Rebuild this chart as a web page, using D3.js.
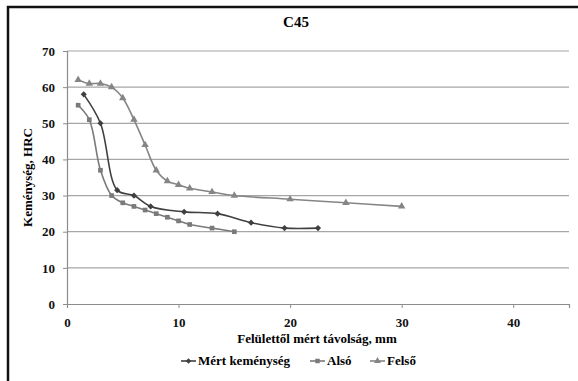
<!DOCTYPE html>
<html>
<head>
<meta charset="utf-8">
<script src="https://cdn.jsdelivr.net/npm/d3@7"></script>
<style>
  body { margin: 0; background: #fff; }
  text { font-family: "Liberation Serif", serif; font-weight: bold; }
</style>
</head>
<body>
<div id="chart"></div>
<script>
// data
const mertX = [1.5, 3, 4.5, 6, 7.5, 10.5, 13.5, 16.5, 19.5, 22.5]
const mertY = [58, 50, 31.5, 30, 27, 25.5, 25, 22.5, 21, 21]
const alsoX = [1, 2, 3, 4, 5, 6, 7, 8, 9, 10, 11, 13, 15]
const alsoY = [55, 51, 37, 30, 28, 27, 26, 25, 24, 23, 22, 21, 20]
const felsoX = [1, 2, 3, 4, 5, 6, 7, 8, 9, 10, 11, 13, 15, 20, 25, 30]
const felsoY = [62, 61, 61, 60, 57, 51, 44, 37, 34, 33, 32, 31, 30, 29, 28, 27]
const xTicks = [0, 10, 20, 30, 40]
const yTicks = [0, 10, 20, 30, 40, 50, 60, 70]

const series = [
  { name: 'Mért keménység', xs: mertX, ys: mertY, color: '#404040', sym: d3.symbolDiamond2 },
  { name: 'Alsó', xs: alsoX, ys: alsoY, color: '#7a7a7a', sym: d3.symbolSquare },
  { name: 'Felső', xs: felsoX, ys: felsoY, color: '#858585', sym: d3.symbolTriangle },
]

const width = 578, height = 381
const serif = '"Liberation Serif", serif'
const svg = d3.select('#chart').append('svg')
  .attr('width', width).attr('height', height)

// outer frame (runs off the right / bottom edge)
svg.append('rect')
  .attr('x', 8).attr('y', 7)
  .attr('width', 600).attr('height', 400)
  .attr('fill', 'none').attr('stroke', '#111').attr('stroke-width', 2.5)

const x = d3.scaleLinear().domain([0, 45]).range([67, 569])
const y = d3.scaleLinear().domain([0, 70]).range([304, 51])

// gridlines
svg.append('g').selectAll('line')
  .data(yTicks.filter(d => d > 0))
  .enter().append('line')
  .attr('x1', x(0)).attr('x2', x(45))
  .attr('y1', d => y(d)).attr('y2', d => y(d))
  .attr('stroke', '#a6a6a6').attr('stroke-width', 1.2)

// axes
const xAxis = svg.append('g')
  .attr('transform', `translate(0,${y(0)})`)
  .call(d3.axisBottom(x).tickValues(xTicks).tickSize(4).tickPadding(10))
const yAxis = svg.append('g')
  .attr('transform', `translate(${x(0)},0)`)
  .call(d3.axisLeft(y).tickValues(yTicks).tickSize(4).tickPadding(8))
;[xAxis, yAxis].forEach(a => {
  a.attr('font-family', serif).attr('font-size', 13)
  a.select('.domain').attr('stroke', '#8c8c8c').attr('stroke-width', 1.2)
  a.selectAll('.tick line').attr('stroke', '#8c8c8c')
  a.selectAll('text').attr('fill', '#111')
})

// lines (smoothed like the spreadsheet original)
const line = d3.line().curve(d3.curveCatmullRom.alpha(0.5))
series.forEach(s => {
  const pts = s.xs.map((v, i) => [x(v), y(s.ys[i])])
  svg.append('path')
    .attr('d', line(pts))
    .attr('fill', 'none')
    .attr('stroke', s.color)
    .attr('stroke-width', 1.6)
  svg.append('g').selectAll('path')
    .data(pts)
    .enter().append('path')
    .attr('transform', d => `translate(${d[0]},${d[1]})`)
    .attr('d', d3.symbol().type(s.sym).size(s.sym === d3.symbolSquare ? 22 : 24))
    .attr('fill', s.color)
})

// title
svg.append('text')
  .attr('x', 296).attr('y', 27)
  .attr('text-anchor', 'middle')
  .attr('font-family', serif)
  .attr('font-size', 15)
  .text('C45')

// axis titles
svg.append('text')
  .attr('transform', `translate(32,${(y(0) + y(70)) / 2}) rotate(-90)`)
  .attr('text-anchor', 'middle')
  .attr('font-family', serif)
  .attr('font-size', 13)
  .text('Keménység, HRC')

svg.append('text')
  .attr('x', 317).attr('y', 343)
  .attr('text-anchor', 'middle')
  .attr('font-family', serif)
  .attr('font-size', 13)
  .text('Felülettől mért távolság, mm')

// legend
const legend = svg.append('g').attr('transform', 'translate(0,365)')
const lgX = [181, 310, 370]
series.forEach((s, i) => {
  const g = legend.append('g').attr('transform', `translate(${lgX[i]},0)`)
  g.append('line')
    .attr('x1', 0).attr('x2', 15).attr('y1', -4).attr('y2', -4)
    .attr('stroke', s.color).attr('stroke-width', 1.6)
  g.append('path')
    .attr('transform', 'translate(7.5,-4)')
    .attr('d', d3.symbol().type(s.sym).size(20))
    .attr('fill', s.color)
  g.append('text')
    .attr('x', 17).attr('y', 0)
    .attr('font-family', serif)
    .attr('font-size', 13)
    .text(s.name)
})
</script>
</body>
</html>
